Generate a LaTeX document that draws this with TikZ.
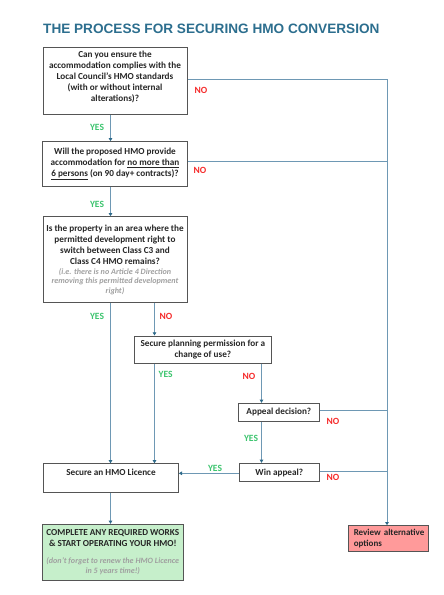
\documentclass[tikz,border=0pt]{standalone}
\usepackage{fontspec}
\setmainfont{Carlito}
\newfontfamily\titlefont{Liberation Sans}
\usetikzlibrary{arrows.meta,calc}
\definecolor{linec}{HTML}{6E98B4}
\definecolor{headc}{HTML}{2E6A8A}
\definecolor{titlec}{HTML}{2C6E8E}
\definecolor{yesc}{HTML}{3CC46E}
\definecolor{noc}{HTML}{F52A2A}
\definecolor{boxc}{HTML}{555555}
\definecolor{grayt}{HTML}{A0A0A0}
\definecolor{greenf}{HTML}{C6EFCB}
\definecolor{redf}{HTML}{FF9A9A}
\begin{document}
\begin{tikzpicture}[x=1pt,y=-1pt,
  box/.style={draw=boxc,line width=1pt,fill=white,inner sep=0pt,align=center,
    font=\bfseries\fontsize{9.2}{11}\selectfont,text=black!85},
  flow/.style={draw=linec,line width=0.9pt,-{Triangle[length=3.2pt,width=3.6pt,color=headc]}},
  link/.style={draw=linec,line width=0.9pt},
  yes/.style={font=\bfseries\fontsize{9.5}{11}\selectfont,text=yesc,inner sep=0pt},
  no/.style={font=\bfseries\fontsize{9.5}{11}\selectfont,text=noc,inner sep=0pt}]
\newcommand\grayit{\color{grayt}\itshape\fontsize{8.1}{10}\selectfont}
\useasboundingbox (0,0) rectangle (444,595);

\node[anchor=base west,inner sep=0pt,text=titlec,font=\titlefont\bfseries\fontsize{13.6}{15}\selectfont] (title) at (43,33) {THE PROCESS FOR SECURING HMO CONVERSION};

\node[box,minimum width=144pt,text height=53.8pt,text depth=12.7pt] (b1) at (115,81)
  {Can you ensure the\\accommodation complies with the\\Local Council’s HMO standards\\(with or without internal\\alterations)?};
\node[box,minimum width=145.4pt,minimum height=44.3pt] (b2) at (115,163.85)
  {Will the proposed HMO provide\\accommodation for \underline{no more than}\\\underline{6 persons} (on 90 day+ contracts)?};
\node[box,minimum width=144pt,minimum height=85.6pt] (b3) at (115,259.5)
  {Is the property in an area where the\\permitted development right to\\switch between Class C3 and\\Class C4 HMO remains?\\[-1pt]
   {\grayit (i.e. there is no Article 4 Direction}\\[-1.5pt]{\grayit removing this permitted development}\\[-1.5pt]{\grayit right)}};
\node[box,minimum width=137.7pt,minimum height=27pt] (plan) at (202.85,349.5)
  {Secure planning permission for a\\change of use?};
\node[box,minimum width=80.3pt,minimum height=18pt] (app) at (278.85,412.3) {Appeal decision?};
\node[box,minimum width=80pt,minimum height=18.4pt] (win) at (279.3,472.5) {Win appeal?};
\node[box,minimum width=134.6pt,text height=11.7pt,text depth=17.3pt,anchor=north] (hmo) at (111,463.3) {Secure an HMO Licence};
\node[box,fill=greenf,minimum width=141pt,minimum height=56pt] (done) at (112.8,552.3)
  {COMPLETE ANY REQUIRED WORKS\\\& START OPERATING YOUR HMO!\\[5.5pt]
   {\grayit (don’t forget to renew the HMO Licence}\\[-0.5pt]{\grayit in 5 years time!)}};
\node[box,fill=redf,align=left,text width=74.7pt,inner xsep=3pt,minimum height=25.6pt,
      font=\bfseries\fontsize{9}{11}\selectfont] (red) at (388.6,538.5)
  {\hspace*{2.5pt}Review alternative\\\hspace*{2.5pt}options};

\coordinate (xa) at (110.5,0);
\coordinate (xc) at (154.5,0);
\coordinate (xd) at (261.5,0);
\coordinate (yw) at (0,473.3);
\coordinate (n1) at (387,79);
\coordinate (n2) at (387,161);
\coordinate (n3) at (387,410.7);
\coordinate (n4) at (387,471.7);

\draw[flow] (b1.south -| xa) -- (b2.north -| xa);
\draw[flow] (b2.south -| xa) -- (b3.north -| xa);
\draw[flow] (b3.south -| xa) -- (hmo.north -| xa);
\draw[flow] (hmo.south -| xa) -- (done.north -| xa);
\draw[flow] (b3.south -| xc) -- (plan.north -| xc);
\draw[flow] (plan.south -| xc) -- (hmo.north -| xc);
\draw[flow] (plan.south -| xd) -- (app.north -| xd);
\draw[flow] (app.south -| xd) -- (win.north -| xd);
\draw[flow] (win.west |- yw) -- (hmo.east |- yw);
\draw[link] (b1.east |- n1) -- (n1);
\draw[link] (b2.east |- n2) -- (n2);
\draw[link] (app.east |- n3) -- (n3);
\draw[link] (win.east |- n4) -- (n4);
\draw[flow] (n1) -- (red.north -| n1);

\node[yes] (y1) at (97,127) {YES};
\node[yes] (y2) at (97,204) {YES};
\node[yes] (y3) at (97,316.7) {YES};
\node[yes] (y4) at (165.7,374.3) {YES};
\node[yes] (y5) at (251,438) {YES};
\node[yes] (y6) at (215,468.3) {YES};
\node[no] (o1) at (201,90) {NO};
\node[no] (o2) at (200,170.7) {NO};
\node[no] (o3) at (166,316.7) {NO};
\node[no] (o4) at (249,376) {NO};
\node[no] (o5) at (333,421.7) {NO};
\node[no] (o6) at (333,477.3) {NO};
\end{tikzpicture}
\end{document}
